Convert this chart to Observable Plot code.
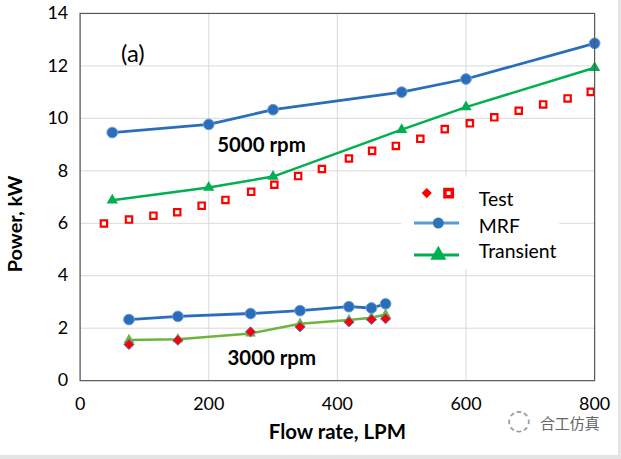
<!DOCTYPE html>
<html><head><meta charset="utf-8">
<script src="https://cdn.jsdelivr.net/npm/d3@7"></script>
<script src="https://cdn.jsdelivr.net/npm/@observablehq/plot@0.6"></script>
<style>
html,body{margin:0;padding:0;background:#fff;}
#wrap{position:relative;width:621px;height:459px;box-sizing:border-box;border-right:3px solid #e4e4e4;border-bottom:4px solid #e4e4e4;overflow:hidden;}
#chart svg{font-family:Lato,"Liberation Sans",sans-serif;}
</style></head>
<body><div id="wrap"><div id="chart"></div></div>
<script>
// 5000 rpm
const flowMRF5000 = [50, 200, 300, 500, 600, 800];
const powerMRF5000 = [9.46, 9.77, 10.33, 11.0, 11.5, 12.86];
const flowTrans5000 = [50, 200, 300, 500, 600, 800];
const powerTrans5000 = [6.88, 7.36, 7.78, 9.57, 10.43, 11.93];
const flowTest5000 = [37, 76, 114, 151, 189, 226, 266, 302, 339, 376, 418, 454, 491, 529, 567, 606, 644, 682, 720, 758, 794];
const powerTest5000 = [5.99, 6.14, 6.29, 6.42, 6.67, 6.89, 7.2, 7.47, 7.8, 8.07, 8.47, 8.76, 8.95, 9.22, 9.59, 9.81, 10.04, 10.29, 10.53, 10.76, 11.01];
// 3000 rpm
const flow3000 = [76, 152, 265, 342, 418, 453, 475];
const powerMRF3000 = [2.33, 2.45, 2.56, 2.67, 2.82, 2.77, 2.93];
const powerTrans3000 = [1.55, 1.58, 1.8, 2.17, 2.31, 2.4, 2.52];
const powerTest3000 = [1.38, 1.54, 1.86, 2.05, 2.24, 2.33, 2.36];
// ticks and labels
const xTicks = [0, 200, 400, 600, 800];
const yTicks = [0, 2, 4, 6, 8, 10, 12, 14];
const xLabel = "Flow rate, LPM";
const yLabel = "Power, kW";
const panelLabel = [{x: 82, y: 12.45, text: "(a)"}];
const speedLabels = [
  {x: 282, y: 8.95, text: "5000 rpm"},
  {x: 298, y: 0.84, text: "3000 rpm"}
];
const legendNames = ["Test", "MRF", "Transient"];
const watermark = "合工仿真";

const zip = (xs, ys) => xs.map((x, i) => ({x, y: ys[i]}));
const mrf5 = zip(flowMRF5000, powerMRF5000);
const tr5 = zip(flowTrans5000, powerTrans5000);
const te5 = zip(flowTest5000, powerTest5000);
const mrf3 = zip(flow3000, powerMRF3000);
const tr3 = zip(flow3000, powerTrans3000);
const te3 = zip(flow3000, powerTest3000);

const blue = "#2a6ebb", green = "#00b050", lgreen = "#6fb43f", red = "#ff0000";

// legend layout (data space)
const legY = [7.15, 6.01, 4.79];
const legTextY = [6.91, 5.85, 4.9];
const legendText = legendNames.map((t, i) => ({x: 620, y: legTextY[i], text: t}));

const plot = Plot.plot({
  width: 621, height: 459,
  marginLeft: 80, marginRight: 24, marginTop: 13, marginBottom: 77,
  x: {domain: [0, 800]},
  y: {domain: [0, 14]},
  style: {fontFamily: "Lato, 'Liberation Sans', sans-serif", fontSize: "18px", color: "#000"},
  marks: [
    Plot.gridX(xTicks, {stroke: "#d9d9d9", strokeOpacity: 1}),
    Plot.gridY(yTicks, {stroke: "#d9d9d9", strokeOpacity: 1}),
    Plot.axisX(xTicks, {tickSize: 0, tickPadding: 17, fontSize: 18, label: null}),
    Plot.axisY(yTicks, {tickSize: 0, tickPadding: 12, fontSize: 18, label: null}),
    Plot.text([xLabel], {frameAnchor: "bottom", dy: 59, text: d => d, fontSize: 20.5, fontWeight: "bold", textAnchor: "middle"}),
    Plot.text([yLabel], {frameAnchor: "left", dx: -65, dy: 27, rotate: -90, text: d => d, fontSize: 20, fontWeight: "bold", textAnchor: "middle"}),
    // legend background
    Plot.rect([{x1: 500, x2: 746, y1: 4.24, y2: 7.76}], {x1: "x1", x2: "x2", y1: "y1", y2: "y2", fill: "#fff"}),
    // 5000 rpm
    Plot.dot(te5, {x: "x", y: "y", symbol: "square", r: 3.6, fill: "#fff", stroke: red, strokeWidth: 2.2}),
    Plot.line(tr5, {x: "x", y: "y", stroke: green, strokeWidth: 2.5}),
    Plot.dot(tr5, {x: "x", y: "y", symbol: "triangle", r: 4.2, fill: green}),
    Plot.line(mrf5, {x: "x", y: "y", stroke: blue, strokeWidth: 2.8}),
    Plot.dot(mrf5, {x: "x", y: "y", r: 5.4, fill: blue, stroke: "#6d9fd8", strokeWidth: 1}),
    // 3000 rpm
    Plot.line(tr3, {x: "x", y: "y", stroke: lgreen, strokeWidth: 2.5}),
    Plot.dot(tr3, {x: "x", y: "y", symbol: "triangle", r: 4, fill: lgreen}),
    Plot.dot(te3, {x: "x", y: "y", symbol: "diamond2", r: 4.6, fill: red, stroke: "#5b6fd0", strokeWidth: 1}),
    Plot.line(mrf3, {x: "x", y: "y", stroke: blue, strokeWidth: 2.8}),
    Plot.dot(mrf3, {x: "x", y: "y", r: 5.4, fill: blue, stroke: "#6d9fd8", strokeWidth: 1}),
    // annotations
    Plot.text(panelLabel, {x: "x", y: "y", text: "text", fontSize: 24}),
    Plot.text(speedLabels, {x: "x", y: "y", text: "text", fontSize: 20.5, fontWeight: "bold"}),
    // legend
    Plot.dot([{x: 539, y: legY[0]}], {x: "x", y: "y", symbol: "diamond2", r: 4.6, fill: red}),
    Plot.dot([{x: 573, y: legY[0]}], {x: "x", y: "y", symbol: "square", r: 4.2, fill: "#fff", stroke: red, strokeWidth: 3.5}),
    Plot.ruleY([{x1: 520, x2: 590, y: legY[1]}], {x1: "x1", x2: "x2", y: "y", stroke: "#5b9bd5", strokeWidth: 3}),
    Plot.dot([{x: 557, y: legY[1]}], {x: "x", y: "y", r: 5.5, fill: "#2e75b6"}),
    Plot.ruleY([{x1: 520, x2: 590, y: legY[2]}], {x1: "x1", x2: "x2", y: "y", stroke: green, strokeWidth: 3}),
    Plot.dot([{x: 557, y: legY[2]}], {x: "x", y: "y", symbol: "triangle", r: 6, fill: green}),
    Plot.text(legendText, {x: "x", y: "y", text: "text", textAnchor: "start", fontSize: 19.5}),
    // watermark
    Plot.text([watermark], {frameAnchor: "bottom-right", dx: 5, dy: 49, text: d => d, fontSize: 15, fill: "#666", textAnchor: "end", fontFamily: "Noto Sans CJK SC"}),
    Plot.text(["◌"], {frameAnchor: "bottom-right", dx: -76, dy: 49, text: d => d, fontSize: 28, fill: "#999", textAnchor: "middle", fontFamily: "DejaVu Sans"}),
    Plot.frame({stroke: "#595959", strokeWidth: 1.2})
  ]
});
document.getElementById("chart").appendChild(plot);
</script>
</body></html>
